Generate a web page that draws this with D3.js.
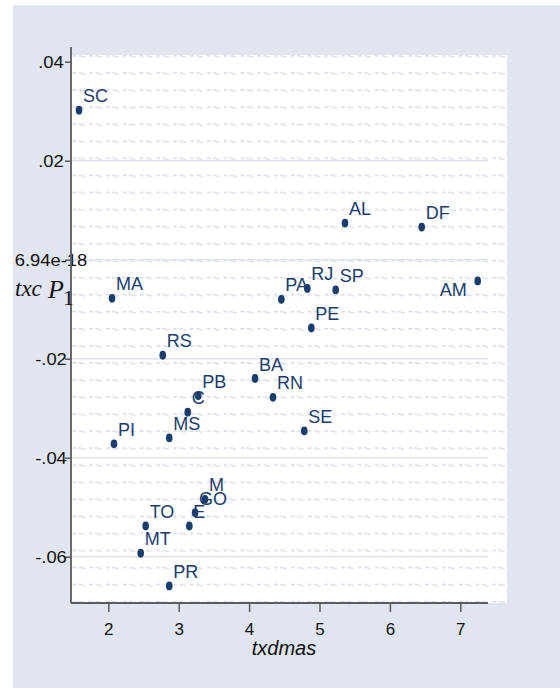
<!DOCTYPE html>
<html><head><meta charset="utf-8">
<script src="https://cdn.jsdelivr.net/npm/d3@7/dist/d3.min.js"></script>
<style>body{margin:0;background:#fff}svg{display:block}</style>
</head><body><svg id="c" width="560" height="688"></svg>
<script>
const states = ["SC","MA","AL","DF","AM","RJ","SP","PA","PE","RS","BA","RN","SE","PB","C","MS","PI","M","GO","E","TO","MT","PR"];
const txdmas = [1.584,2.053,5.362,6.452,7.247,4.827,5.230,4.458,4.884,2.773,4.084,4.339,4.784,3.278,3.128,2.866,2.081,3.374,3.232,3.151,2.531,2.460,2.866];
const txcP1 = [0.0302,-0.0078,0.0074,0.0066,-0.0043,-0.0058,-0.0061,-0.0080,-0.0138,-0.0193,-0.0240,-0.0278,-0.0346,-0.0275,-0.0308,-0.0360,-0.0372,-0.0484,-0.0511,-0.0538,-0.0538,-0.0593,-0.0659];
const xTicks = [2,3,4,5,6,7];
const yTicks = [0.04,0.02,0,-0.02,-0.04,-0.06];
const yTickLabels = [".04",".02","6.94e-18","-.02","-.04","-.06"];
const leftLabelled = ["AM"];

const svg = d3.select("#c");
const navy = "#1b3d6d", axisCol = "#5b5b5b", bg = "#e0e5ef";

svg.append("rect").attr("x",13).attr("y",5).attr("width",547).attr("height",683).attr("fill",bg);

const x = d3.scaleLinear().domain([2,7]).range([108.3,460.3]);
const y = d3.scaleLinear().domain([0.04,-0.06]).range([61.7,556.7]);
const plotL = 71, plotR = 507, plotT = 55, plotB = 603, axisR = 488, axisT = 47;

// pattern
const defs = svg.append("defs");
const pat = defs.append("pattern").attr("id","tex").attr("patternUnits","userSpaceOnUse")
  .attr("x",72.5).attr("y",55.2).attr("width",16.8).attr("height",17.05);
pat.append("rect").attr("x",0).attr("y",0).attr("width",3.6).attr("height",1.5).attr("fill","#d2d8e6");
pat.append("path").attr("d","M6,0.7 h2.6 l1.4,1.0 h2.6").attr("fill","none").attr("stroke","#d8dde9").attr("stroke-width",1.3);

svg.append("rect").attr("x",plotL).attr("y",plotT).attr("width",plotR-plotL).attr("height",plotB-plotT).attr("fill","#fff");
svg.append("rect").attr("x",plotL).attr("y",plotT).attr("width",plotR-plotL).attr("height",plotB-plotT).attr("fill","url(#tex)");

// gridlines
svg.append("g").selectAll("line").data(yTicks.filter(v=>v!==0.04)).join("line")
  .attr("x1",plotL).attr("x2",axisR).attr("y1",d=>y(d)).attr("y2",d=>y(d))
  .attr("stroke","#dde2ed").attr("stroke-width",1.6);

// axes
const yAxis = d3.axisLeft(y).tickValues(yTicks).tickSize(6).tickFormat((d,i)=>yTickLabels[i]);
const gy = svg.append("g").attr("transform",`translate(${plotL},0)`).call(yAxis);
gy.select(".domain").remove();
gy.selectAll(".tick line").attr("stroke",axisCol).attr("stroke-width",1.5);
gy.selectAll(".tick text").attr("x",0).attr("text-anchor","middle")
  .attr("transform","translate(-20,0) scale(1.15,1)")
  .attr("font-family","'Liberation Sans',Arial,sans-serif").attr("font-size",16).attr("fill","#111").attr("dy","0.36em");
svg.append("line").attr("x1",plotL).attr("x2",plotL).attr("y1",axisT).attr("y2",plotB).attr("stroke",axisCol).attr("stroke-width",1.8);

const xAxis = d3.axisBottom(x).tickValues(xTicks).tickSize(9).tickFormat(d3.format("d"));
const gx = svg.append("g").attr("transform",`translate(0,${plotB})`).call(xAxis);
gx.select(".domain").remove();
gx.selectAll(".tick line").attr("stroke",axisCol).attr("stroke-width",1.5);
gx.selectAll(".tick text").attr("y",32).attr("dy",0)
  .attr("font-family","'Liberation Sans',Arial,sans-serif").attr("font-size",17).attr("fill","#111");
svg.append("line").attr("x1",plotL).attr("x2",axisR).attr("y1",plotB).attr("y2",plotB).attr("stroke",axisCol).attr("stroke-width",1.8);

// axis titles
svg.append("text").attr("x",284).attr("y",655).attr("text-anchor","middle")
  .attr("font-family","'Liberation Sans',Arial,sans-serif").attr("font-style","italic").attr("font-size",20).attr("fill","#111").text("txdmas");
const yt = svg.append("text").attr("font-family","'Liberation Serif','Times New Roman',serif").attr("font-style","italic").attr("fill","#111");
svg.append("text").attr("x",15).attr("y",296).attr("font-family","'Liberation Serif','Times New Roman',serif").attr("font-style","italic").attr("font-size",23).attr("fill","#111").text("txc");
svg.append("text").attr("x",48).attr("y",298).attr("font-family","'Liberation Serif','Times New Roman',serif").attr("font-style","italic").attr("font-size",26).attr("fill","#111").text("P");
svg.append("text").attr("x",63).attr("y",305).attr("font-family","'Liberation Serif','Times New Roman',serif").attr("font-size",22).attr("fill","#111").text("1");

// points
const data = states.map((s,i)=>({s, vx:txdmas[i], vy:txcP1[i]}));
svg.append("g").selectAll("ellipse").data(data).join("ellipse")
  .attr("cx",d=>x(d.vx)).attr("cy",d=>y(d.vy)).attr("rx",3.3).attr("ry",4.4).attr("fill",navy);
svg.append("g").selectAll("text").data(data).join("text")
  .attr("x",d=>leftLabelled.includes(d.s)? x(d.vx)-11 : x(d.vx)+4)
  .attr("y",d=>leftLabelled.includes(d.s)? y(d.vy)+15.5 : y(d.vy)-8)
  .attr("text-anchor",d=>leftLabelled.includes(d.s)?"end":"start")
  .attr("font-family","'Liberation Sans',Arial,sans-serif").attr("font-size",18).attr("fill",navy)
  .text(d=>d.s);
</script></body></html>
